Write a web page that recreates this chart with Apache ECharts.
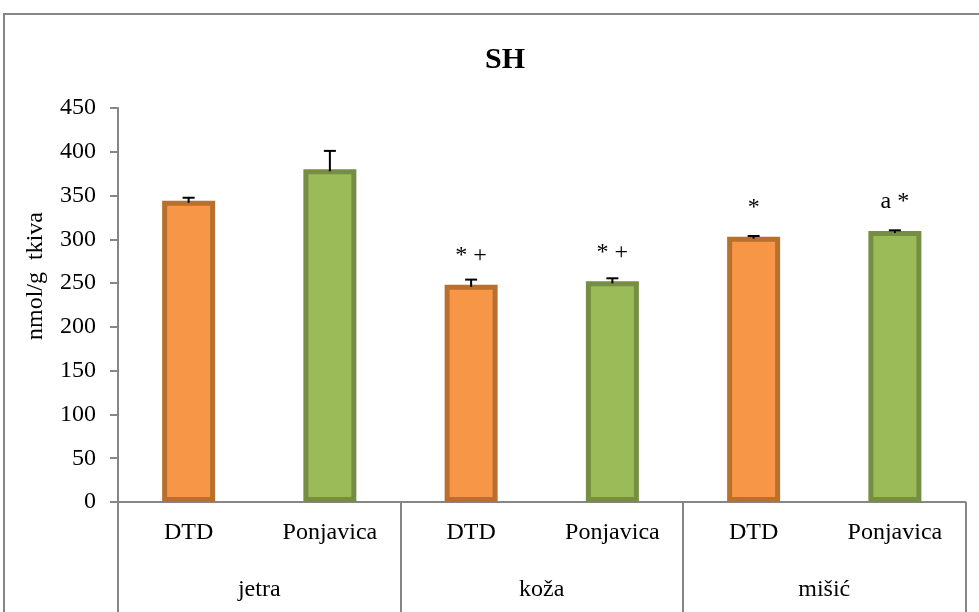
<!DOCTYPE html>
<html>
<head>
<meta charset="utf-8">
<script src="https://cdn.jsdelivr.net/npm/echarts@6/dist/echarts.min.js"></script>
<style>html,body{margin:0;padding:0;background:#fff;}#c{width:979px;height:612px;}</style>
</head>
<body>
<div id="c"></div>
<script>
// ---- data ----
const groups = ['jetra', 'koža', 'mišić'];
const subCategories = ['DTD', 'Ponjavica', 'DTD', 'Ponjavica', 'DTD', 'Ponjavica'];
const values = [344, 380, 248, 252, 303, 309.5];
const errors = [3.5, 21, 6, 3.5, 0.8, 0.8];
const annotations = ['', '', '* +', '* +', '*', 'a *'];
const yTicks = [0, 50, 100, 150, 200, 250, 300, 350, 400, 450];
const yAxisName = 'nmol/g  tkiva';

const fills = { DTD: '#F79646', Ponjavica: '#9BBB59' };
const borders = { DTD: '#B8702F', Ponjavica: '#758E43' };
const FONT = '"Liberation Serif", "Times New Roman", serif';
const AXIS = '#868686';

const chart = echarts.init(document.getElementById('c'), null, { renderer: 'canvas' });

const barData = values.map((v, i) => ({
  value: v,
  itemStyle: { color: fills[subCategories[i]], borderColor: borders[subCategories[i]] },
  label: { formatter: annotations[i] }
}));
const errData = values.map((v, i) => [i, v, errors[i]]);

chart.setOption({
  animation: false,
  backgroundColor: '#fff',
  title: {
    text: 'SH', left: 500, textAlign: 'center', top: 40,
    textStyle: { fontFamily: FONT, fontSize: 30, fontWeight: 'bold', color: '#000' }
  },
  graphic: [{
    type: 'rect', silent: true, z: -1,
    shape: { x: 4, y: 14, width: 1000, height: 700 },
    style: { fill: 'none', stroke: AXIS, lineWidth: 2 }
  }, {
    type: 'text', silent: true, x: 36, y: 276, rotation: Math.PI / 2,
    style: { text: yAxisName, fontFamily: FONT, fontSize: 24, fill: '#000', align: 'center', verticalAlign: 'middle' }
  }],
  grid: { left: 118, right: 13.5, top: 108, bottom: 110 },
  xAxis: [{
    type: 'category', data: subCategories, position: 'bottom',
    axisLine: { show: true, lineStyle: { color: AXIS, width: 2 } },
    axisTick: { show: false },
    axisLabel: { interval: 0, margin: 19, fontFamily: FONT, fontSize: 24, color: '#000' }
  }, {
    type: 'category', data: groups, position: 'bottom',
    axisLine: { show: false },
    axisTick: { show: true, length: 110, interval: 0, lineStyle: { color: AXIS, width: 2 } },
    axisLabel: { interval: 0, margin: 76, fontFamily: FONT, fontSize: 24, color: '#000' }
  }],
  yAxis: {
    type: 'value', min: yTicks[0], max: yTicks[yTicks.length - 1], interval: 50,
    axisLine: { show: true, lineStyle: { color: AXIS, width: 2 } },
    axisTick: { show: true, inside: false, length: 8, lineStyle: { color: AXIS, width: 2 } },
    splitLine: { show: false },
    axisLabel: { margin: 22, fontFamily: FONT, fontSize: 24, color: '#000' }
  },
  series: [{
    type: 'bar', xAxisIndex: 0, data: barData, barWidth: 53,
    itemStyle: { borderWidth: 5 },
    label: { show: true, position: 'top', distance: 17, fontFamily: FONT, fontSize: 24, color: '#000' }
  }, {
    type: 'custom', xAxisIndex: 0, data: errData, z: 10,
    renderItem: function (params, api) {
      const x = api.value(0), v = api.value(1), e = api.value(2);
      const p0 = api.coord([x, v]);
      const p1 = api.coord([x, v + e]);
      const half = 6;
      return {
        type: 'group',
        children: [{
          type: 'line', shape: { x1: p0[0], y1: p0[1] + 2, x2: p1[0], y2: p1[1] },
          style: { stroke: '#000', lineWidth: 2 }
        }, {
          type: 'line', shape: { x1: p1[0] - half, y1: p1[1], x2: p1[0] + half, y2: p1[1] },
          style: { stroke: '#000', lineWidth: 2 }
        }]
      };
    }
  }]
});
</script>
</body>
</html>
